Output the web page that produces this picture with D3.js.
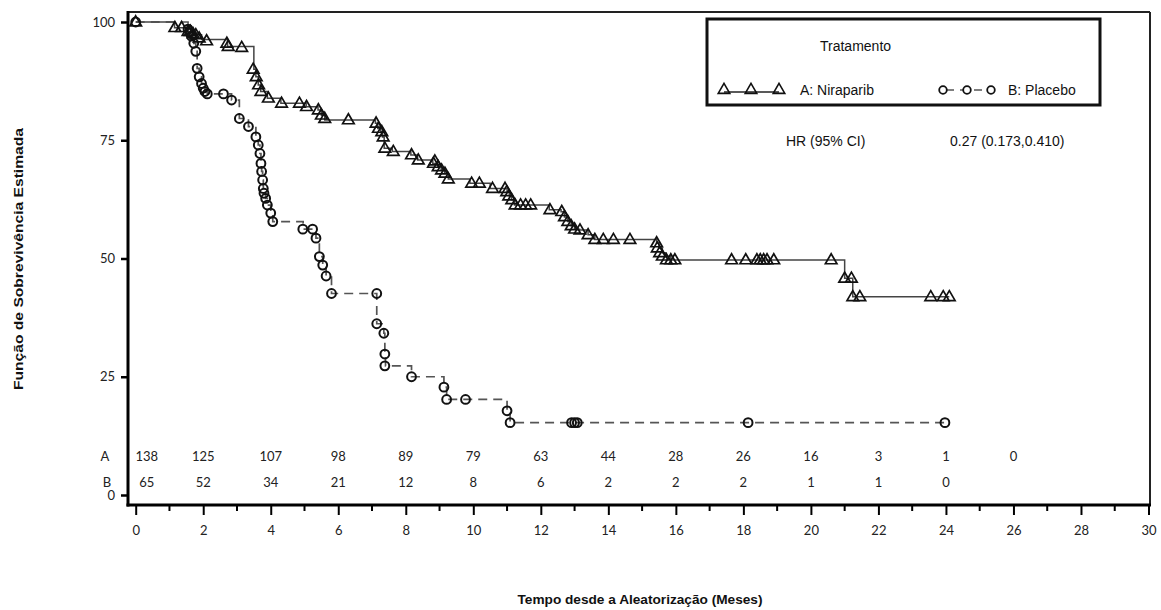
<!DOCTYPE html>
<html><head><meta charset="utf-8">
<script src="https://cdn.jsdelivr.net/npm/d3@7"></script>
<style>
body{margin:0;background:#fff;}
svg{display:block;}
</style></head>
<body><svg id="c" width="1161" height="610"></svg>
<script>
// ---- data ----
const xTicks = [0,2,4,6,8,10,12,14,16,18,20,22,24,26,28,30];
const yTicks = [0,25,50,75,100];
const riskTimes = [0,2,4,6,8,10,12,14,16,18,20,22,24,26];
const riskA = [138,125,107,98,89,79,63,44,28,26,16,3,1,0];
const riskB = [65,52,34,21,12,8,6,2,2,2,1,1,0];

// Niraparib step curve: time, survival (%)
const stepTimeA = [0,1.15,1.55,1.75,1.95,2.72,3.5,3.56,3.63,3.7,3.9,4.3,5.05,5.4,5.5,5.6,7.1,7.17,7.26,7.31,7.36,7.6,8.15,8.35,8.8,8.95,9.05,9.15,9.26,9.9,10.5,11.0,11.07,11.13,11.22,12.25,12.6,12.7,12.8,12.9,13.0,13.15,13.4,13.6,15.43,15.5,15.6,15.7,15.85,21.0,21.24,24.1];
const stepSurvA = [100,98.8,98.0,97.3,96.3,94.8,90.0,88.4,86.7,85.3,83.9,82.8,82.1,81.4,80.3,79.3,78.6,77.5,76.8,75.7,73.3,72.6,71.9,70.8,70.1,69.4,68.7,68.0,66.8,65.9,64.8,64.1,63.2,62.4,61.3,60.3,59.9,58.8,57.8,56.9,56.2,56.0,55.0,54.0,53.3,52.2,51.2,50.5,49.7,45.8,41.9,41.9];
const markTimeA = [0,1.16,1.36,1.55,1.62,1.7,1.78,1.88,2.1,2.7,2.74,3.14,3.48,3.57,3.64,3.71,3.93,4.32,4.85,5.06,5.41,5.5,5.6,6.3,7.12,7.19,7.29,7.33,7.38,7.63,8.17,8.37,8.82,8.86,8.96,9.06,9.16,9.26,9.95,10.18,10.57,10.94,10.99,11.05,11.14,11.24,11.4,11.55,11.7,12.27,12.62,12.7,12.8,12.9,13.0,13.16,13.4,13.6,13.85,14.15,14.64,15.43,15.45,15.52,15.6,15.72,15.85,15.97,17.65,18.07,18.4,18.5,18.6,18.7,18.9,20.6,21.0,21.2,21.24,21.45,23.55,23.92,24.1];
const markSurvA = [100,98.8,98.8,98.0,98.0,97.5,97.3,96.6,96.0,95.5,94.8,94.6,90.0,88.4,86.7,85.3,83.9,82.8,82.8,82.1,81.4,80.3,79.6,79.3,78.6,77.5,76.8,75.7,73.3,72.6,71.9,70.8,70.1,70.6,69.4,68.7,68.0,66.8,65.9,65.9,64.8,64.8,64.1,63.2,62.4,61.3,61.3,61.3,61.3,60.3,59.9,58.8,57.8,56.9,56.2,56.0,55.0,54.0,54.0,54.0,54.0,53.3,52.2,51.2,50.5,49.7,49.7,49.7,49.7,49.7,49.7,49.7,49.7,49.7,49.7,49.7,45.8,45.8,41.9,41.9,41.9,41.9,41.9];

// Placebo step curve
const stepTimeB = [0,1.55,1.65,1.72,1.78,1.82,1.88,1.95,2.0,2.05,2.12,2.84,3.07,3.34,3.56,3.63,3.68,3.71,3.73,3.76,3.78,3.8,3.85,3.9,4.0,4.06,4.96,5.34,5.44,5.54,5.64,5.8,7.14,7.35,7.38,7.4,8.17,9.13,9.21,11.0,11.09,23.97];
const stepSurvB = [100,98.5,97.0,95.5,93.8,90.2,88.4,87.0,86.0,85.3,84.8,83.5,79.6,77.9,75.7,74.0,72.2,70.1,68.4,66.6,64.8,63.8,62.7,61.3,59.6,57.8,56.2,54.3,50.4,48.6,46.3,42.6,36.2,34.2,29.8,27.3,25.0,22.8,20.2,17.8,15.3,15.3];
const markTimeB = [0,1.55,1.6,1.65,1.72,1.78,1.82,1.88,1.95,2.0,2.05,2.12,2.6,2.84,3.07,3.34,3.56,3.63,3.68,3.71,3.73,3.76,3.78,3.8,3.85,3.9,4.0,4.06,4.95,5.24,5.34,5.44,5.54,5.64,5.8,7.14,7.14,7.35,7.38,7.38,8.17,9.13,9.21,9.77,11.0,11.09,12.91,13.0,13.08,18.14,23.97];
const markSurvB = [100,98.5,97.8,97.0,95.5,93.8,90.2,88.4,87.0,86.0,85.3,84.8,84.8,83.5,79.6,77.9,75.7,74.0,72.2,70.1,68.4,66.6,64.8,63.8,62.7,61.3,59.6,57.8,56.2,56.2,54.3,50.4,48.6,46.3,42.6,42.6,36.2,34.2,29.8,27.3,25.0,22.8,20.2,20.2,17.8,15.3,15.3,15.3,15.3,15.3,15.3];

const legendTitle = "Tratamento";
const seriesNames = ["A: Niraparib","B: Placebo"];
const hrLabel = "HR (95% CI)";
const hrValue = "0.27 (0.173,0.410)";
const yTitle = "Função de Sobrevivência Estimada";
const xTitle = "Tempo desde a Aleatorização (Meses)";

// ---- drawing ----
const svg = d3.select("#c");
const L = 128, T = 12, R = 1150, B = 505;
const x = d3.scaleLinear().domain([0,30]).range([135.7,1148.5]);
const y = d3.scaleLinear().domain([0,100]).range([495,22]);
const tickFont = "Lato, 'Open Sans', sans-serif";
const arial = "'Liberation Sans', Arial, sans-serif";

// y axis
const ya = svg.append("g").attr("transform",`translate(${L},0)`)
  .call(d3.axisLeft(y).tickValues(yTicks).tickSize(7).tickPadding(6));
ya.select(".domain").remove();
ya.selectAll("line").attr("stroke","#000").attr("stroke-width",2.5);
ya.selectAll("text").attr("font-family",tickFont).attr("font-size",13).attr("fill","#222");

// x axis
const xa = svg.append("g").attr("transform",`translate(0,${B})`)
  .call(d3.axisBottom(x).tickValues(xTicks).tickSize(10).tickPadding(11));
xa.select(".domain").remove();
xa.selectAll("line").attr("stroke","#000").attr("stroke-width",2);
xa.selectAll("text").attr("font-family",tickFont).attr("font-size",13).attr("fill","#222");
const minor = d3.range(1,30,2);
svg.append("g").selectAll("line").data(minor).join("line")
  .attr("x1",d=>x(d)).attr("x2",d=>x(d)).attr("y1",B).attr("y2",B+6)
  .attr("stroke","#000").attr("stroke-width",2);

// frame
svg.append("line").attr("x1",L).attr("x2",R).attr("y1",T).attr("y2",T).attr("stroke","#222").attr("stroke-width",2);
svg.append("line").attr("x1",R).attr("x2",R).attr("y1",T).attr("y2",B).attr("stroke","#222").attr("stroke-width",2);
svg.append("line").attr("x1",L).attr("x2",L).attr("y1",T-1).attr("y2",B+1.5).attr("stroke","#000").attr("stroke-width",3);
svg.append("line").attr("x1",L-1.5).attr("x2",R+1).attr("y1",B).attr("y2",B).attr("stroke","#000").attr("stroke-width",3);

// curves
const line = d3.line().x(d=>x(d[0])).y(d=>y(d[1])).curve(d3.curveStepAfter);
const dataA = stepTimeA.map((t,i)=>[t,stepSurvA[i]]);
const dataB = stepTimeB.map((t,i)=>[t,stepSurvB[i]]);
svg.append("path").attr("d",line(dataB)).attr("fill","none").attr("stroke","#555").attr("stroke-width",1.7).attr("stroke-dasharray","9,6");
svg.append("path").attr("d",line(dataA)).attr("fill","none").attr("stroke","#444").attr("stroke-width",1.5);

const tri = d3.symbol().type(d3.symbolTriangle).size(58);
const mA = markTimeA.map((t,i)=>[t,markSurvA[i]]);
const mB = markTimeB.map((t,i)=>[t,markSurvB[i]]);
svg.append("g").selectAll("circle").data(mB).join("circle")
  .attr("cx",d=>x(d[0])).attr("cy",d=>y(d[1])).attr("r",4.4)
  .attr("fill","none").attr("stroke","#111").attr("stroke-width",2);
svg.append("g").selectAll("path").data(mA).join("path")
  .attr("d",tri).attr("transform",d=>`translate(${x(d[0])},${y(d[1])+0.5})`)
  .attr("fill","none").attr("stroke","#111").attr("stroke-width",1.7);

// at risk table
const riskY = [456, 482];
svg.append("text").attr("x",105).attr("y",riskY[0]).attr("dy","0.35em").attr("text-anchor","middle").attr("font-family",tickFont).attr("font-size",13).attr("fill","#222").text("A");
svg.append("text").attr("x",107).attr("y",riskY[1]).attr("dy","0.35em").attr("text-anchor","middle").attr("font-family",tickFont).attr("font-size",13).attr("fill","#222").text("B");
const rx = t => t===0 ? x(t)+11 : x(t);
svg.append("g").selectAll("text").data(riskA).join("text")
  .attr("x",(d,i)=>rx(riskTimes[i])).attr("y",riskY[0]).attr("dy","0.35em")
  .attr("text-anchor","middle").attr("font-family",tickFont).attr("font-size",13).attr("fill","#222").text(d=>d);
svg.append("g").selectAll("text").data(riskB).join("text")
  .attr("x",(d,i)=>rx(riskTimes[i])).attr("y",riskY[1]).attr("dy","0.35em")
  .attr("text-anchor","middle").attr("font-family",tickFont).attr("font-size",13).attr("fill","#222").text(d=>d);

// legend
svg.append("rect").attr("x",707).attr("y",19).attr("width",393).attr("height",86)
  .attr("fill","#fff").attr("stroke","#111").attr("stroke-width",3);
svg.append("text").attr("x",820).attr("y",46).attr("dy","0.35em").attr("font-family",arial).attr("font-size",14).attr("fill","#111").text(legendTitle);
const lgY = 90;
const lgA = [724,751,779];
svg.append("line").attr("x1",lgA[0]).attr("x2",lgA[2]).attr("y1",lgY+2).attr("y2",lgY+2).attr("stroke","#222").attr("stroke-width",1.5);
svg.append("g").selectAll("path").data(lgA).join("path").attr("d",tri)
  .attr("transform",d=>`translate(${d},${lgY})`).attr("fill","none").attr("stroke","#111").attr("stroke-width",1.6);
svg.append("text").attr("x",800).attr("y",lgY).attr("dy","0.35em").attr("font-family",arial).attr("font-size",14).attr("fill","#111").text(seriesNames[0]);
const lgB = [943,967,991];
svg.append("line").attr("x1",lgB[0]).attr("x2",lgB[2]).attr("y1",lgY).attr("y2",lgY).attr("stroke","#555").attr("stroke-width",1.5).attr("stroke-dasharray","8,6").attr("stroke-dashoffset",-3);
svg.append("g").selectAll("circle").data(lgB).join("circle")
  .attr("cx",d=>d).attr("cy",lgY).attr("r",3.8).attr("fill","#fff").attr("stroke","#111").attr("stroke-width",1.8);
svg.append("text").attr("x",1008).attr("y",lgY).attr("dy","0.35em").attr("font-family",arial).attr("font-size",14).attr("fill","#111").text(seriesNames[1]);

svg.append("text").attr("x",786).attr("y",141).attr("dy","0.35em").attr("font-family",arial).attr("font-size",14).attr("fill","#111").text(hrLabel);
svg.append("text").attr("x",950).attr("y",141).attr("dy","0.35em").attr("font-family",arial).attr("font-size",14).attr("fill","#111").text(hrValue);

// titles
svg.append("text").attr("transform","translate(18,259) rotate(-90)").attr("text-anchor","middle").attr("dy","0.35em")
  .attr("font-family",arial).attr("font-weight","bold").attr("font-size",13)
  .attr("textLength",262).attr("lengthAdjust","spacingAndGlyphs").attr("fill","#111").text(yTitle);
svg.append("text").attr("x",640).attr("y",604).attr("text-anchor","middle")
  .attr("font-family",arial).attr("font-weight","bold").attr("font-size",13.5)
  .attr("textLength",245).attr("lengthAdjust","spacingAndGlyphs").attr("fill","#111").text(xTitle);
</script></body></html>
